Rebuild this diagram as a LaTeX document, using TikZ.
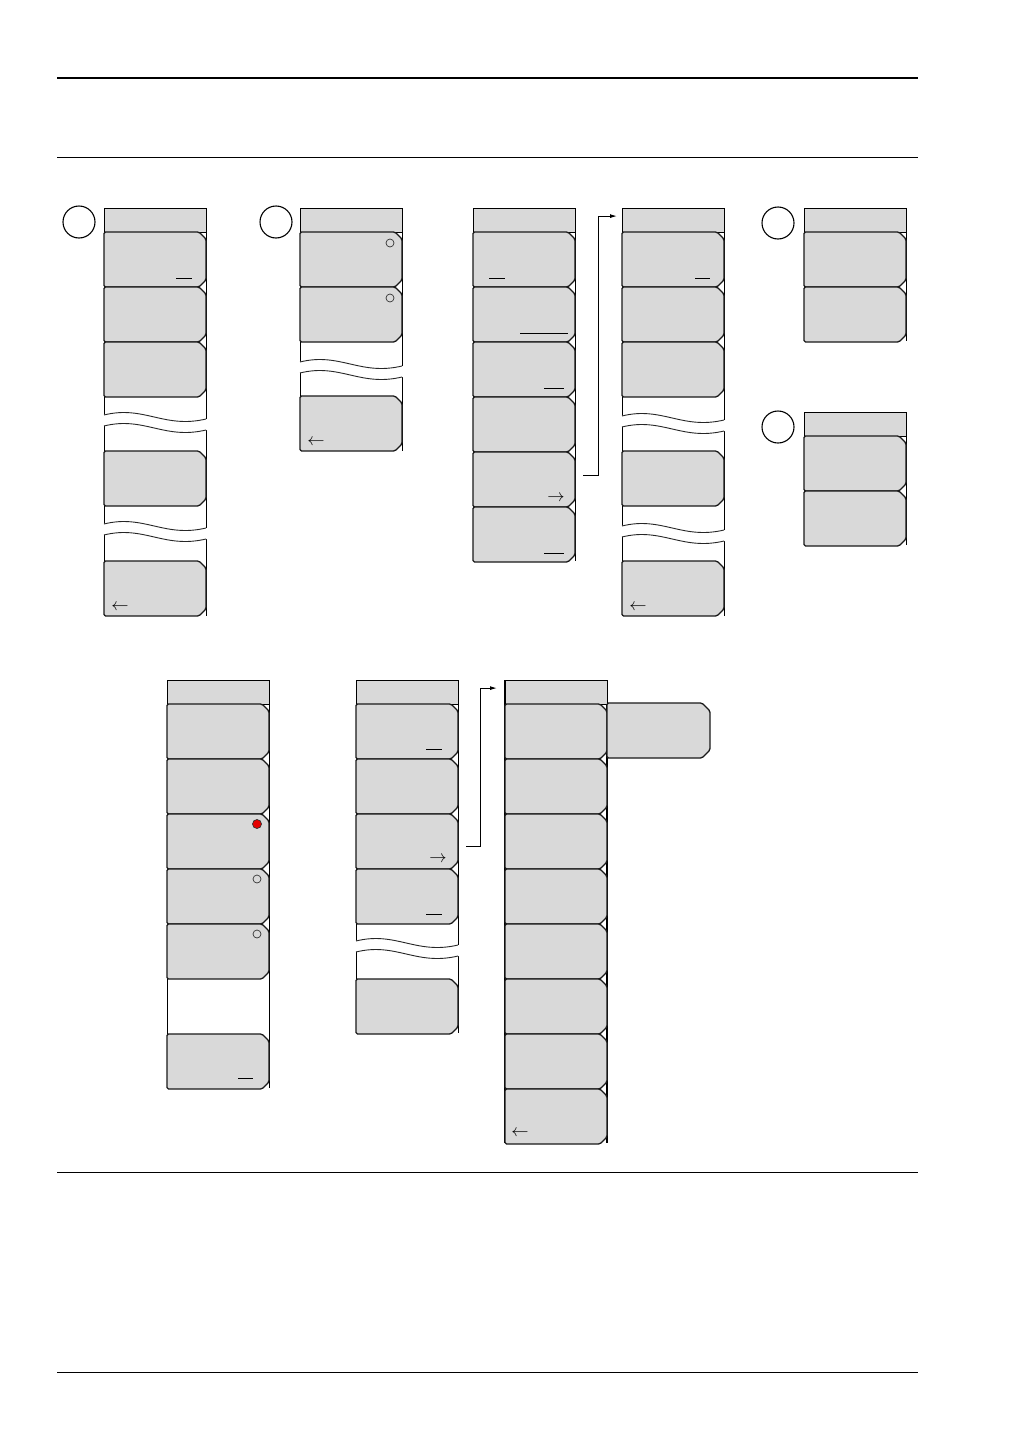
\documentclass[tikz,border=0pt]{standalone}
\usetikzlibrary{arrows.meta}
\definecolor{keygray}{HTML}{D9D9D9}
\tikzset{
  btnst/.style={fill=keygray, draw=black!90, line width=1.3pt, rounded corners=1.5pt},
  ttlst/.style={fill=keygray, draw=black, line width=1.2pt, inner sep=0pt, minimum width=102pt, minimum height=24pt, anchor=north west},
  frmst/.style={draw=black, line width=0.9pt},
  wvst/.style={draw=black!85, line width=0.9pt},
  ulst/.style={draw=black, line width=1pt},
  numcirc/.style={circle, draw=black, line width=1.1pt, inner sep=0pt, minimum size=32pt},
  radio/.style={circle, draw=black!80, line width=0.7pt, inner sep=0pt, minimum size=8pt},
  radioon/.style={circle, draw=black!80, fill=red!90!black, line width=0.7pt, inner sep=0pt, minimum size=9pt},
  conn/.style={draw=black, line width=1pt, -{Latex[length=7pt,width=4pt]}},
  rule/.style={draw=black, line width=0.8pt},
  symb/.style={inner sep=0pt, font=\fontsize{16}{16}\selectfont}
}
% button: name, x, ytop
\newcommand\btn[3]{%
  \draw[btnst] (#2+50,#3) -- (#2+95,#3) -- (#2+102,#3+7) -- (#2+102,#3+48) -- (#2+95,#3+55) -- (#2,#3+55) -- (#2,#3) -- cycle;
  \node[inner sep=0pt, minimum width=102pt, minimum height=55pt, anchor=north west] (#1) at (#2,#3) {};}
% title: name, x, ytop
\newcommand\ttl[3]{\node[ttlst] (#1) at (#2,#3) {};}
% frame: x, ytop, ybottom
\newcommand\frm[3]{\draw[frmst] (#1,#2) -- (#1,#3) (#1+102,#2) -- (#1+102,#3);}
% wave break: x, y
\newcommand\wv[2]{%
  \fill[white] (#1-1,#2) .. controls (#1+40,#2-10) and (#1+60,#2+14) .. (#1+103,#2+4) -- (#1+103,#2+15) .. controls (#1+60,#2+25) and (#1+40,#2+1) .. (#1-1,#2+11) -- cycle;
  \draw[wvst] (#1,#2) .. controls (#1+40,#2-10) and (#1+60,#2+14) .. (#1+102,#2+4);
  \draw[wvst] (#1,#2+11) .. controls (#1+40,#2+1) and (#1+60,#2+25) .. (#1+102,#2+15);}
\begin{document}
\begin{tikzpicture}[x=1pt,y=-1pt]
\useasboundingbox (0,0) rectangle (1032,1456);
\fill[white] (0,0) rectangle (1032,1456);

% page rules
\draw[rule, line width=2.5pt] (57,78) -- (918,78);
\draw[rule] (57,157) -- (918,157);
\draw[rule] (57,1172) -- (918,1172);
\draw[rule] (57,1372) -- (918,1372);

% ---------- column A ----------
\node[numcirc] (nA) at (79,222) {};
\frm{104}{208}{616}
\ttl{A0}{104}{208}
\btn{A1}{104}{232}
\btn{A2}{104}{287}
\btn{A3}{104}{342}
\wv{104}{415}
\btn{A4}{104}{451}
\wv{104}{524}
\btn{A5}{104}{561}
\draw[ulst] (176,278) -- (192,278);
\node[symb] (A5s) at (120,607) {$\leftarrow$};

% ---------- column B ----------
\node[numcirc] (nB) at (276,222) {};
\frm{300}{208}{451}
\ttl{B0}{300}{208}
\btn{B1}{300}{232}
\btn{B2}{300}{287}
\wv{300}{362}
\btn{B3}{300}{396}
\node[radio] (B1r) at (390,243) {};
\node[radio] (B2r) at (390,298) {};
\node[symb] (B3s) at (316,442) {$\leftarrow$};

% ---------- column C ----------
\frm{473}{208}{561}
\ttl{C0}{473}{208}
\btn{C1}{473}{232}
\btn{C2}{473}{287}
\btn{C3}{473}{342}
\btn{C4}{473}{397}
\btn{C5}{473}{452}
\btn{C6}{473}{507}
\draw[ulst] (489,278) -- (505,278);
\draw[ulst] (520,333) -- (568,333);
\draw[ulst] (544,388) -- (564,388);
\node[symb] (C5s) at (556,498) {$\rightarrow$};
\draw[ulst] (544,553) -- (564,553);

% ---------- column D ----------
\frm{622}{208}{616}
\ttl{D0}{622}{208}
\btn{D1}{622}{232}
\btn{D2}{622}{287}
\btn{D3}{622}{342}
\wv{622}{416}
\btn{D4}{622}{451}
\wv{622}{526}
\btn{D5}{622}{561}
\draw[ulst] (695,278) -- (710,278);
\node[symb] (D5s) at (638,607) {$\leftarrow$};

\draw[conn] ([xshift=8pt,yshift=4.5pt]C5.east) -- ++(15,0) |- ([xshift=-5pt,yshift=4.5pt]D0.west);

% ---------- columns E, F ----------
\node[numcirc] (nE) at (778,223) {};
\frm{804}{208}{341}
\ttl{E0}{804}{208}
\btn{E1}{804}{232}
\btn{E2}{804}{287}

\node[numcirc] (nF) at (778,427) {};
\frm{804}{412}{545}
\ttl{F0}{804}{412}
\btn{F1}{804}{436}
\btn{F2}{804}{491}

% ---------- column G ----------
\frm{167}{680}{1088}
\ttl{G0}{167}{680}
\btn{G1}{167}{704}
\btn{G2}{167}{759}
\btn{G3}{167}{814}
\btn{G4}{167}{869}
\btn{G5}{167}{924}
\btn{G6}{167}{1034}
\node[radioon] (G3r) at (257,824) {};
\node[radio] (G4r) at (257,879) {};
\node[radio] (G5r) at (257,934) {};
\draw[ulst] (238,1078) -- (253,1078);

% ---------- column H ----------
\frm{356}{680}{1033}
\ttl{H0}{356}{680}
\btn{H1}{356}{704}
\btn{H2}{356}{759}
\btn{H3}{356}{814}
\btn{H4}{356}{869}
\wv{356}{941}
\btn{H5}{356}{979}
\draw[ulst] (426,749) -- (442,749);
\node[symb] (H3s) at (438,859) {$\rightarrow$};
\draw[ulst] (426,914) -- (442,914);

% ---------- column I ----------
\draw[frmst, line width=1.5pt] (505,680) -- (505,1143) (607,680) -- (607,1143);
\ttl{I0}{505}{680}
\btn{I1}{505}{704}
\btn{I2}{505}{759}
\btn{I3}{505}{814}
\btn{I4}{505}{869}
\btn{I5}{505}{924}
\btn{I6}{505}{979}
\btn{I7}{505}{1034}
\btn{I8}{505}{1089}
\node[symb] (I8s) at (520,1133) {$\leftarrow$};

% extra key beside I1
\draw[btnst] (658,703) -- (702,703) -- (710,711) -- (710,750) -- (702,758) -- (607,758) -- (607,703) -- cycle;
\node[inner sep=0pt, minimum width=103pt, minimum height=55pt, anchor=north west] (X1) at (607,703) {};

\draw[conn] ([xshift=8pt,yshift=-4.5pt]H3.east) -- ++(14,0) |- ([xshift=-8pt,yshift=4.5pt]I0.west);
\end{tikzpicture}
\end{document}
